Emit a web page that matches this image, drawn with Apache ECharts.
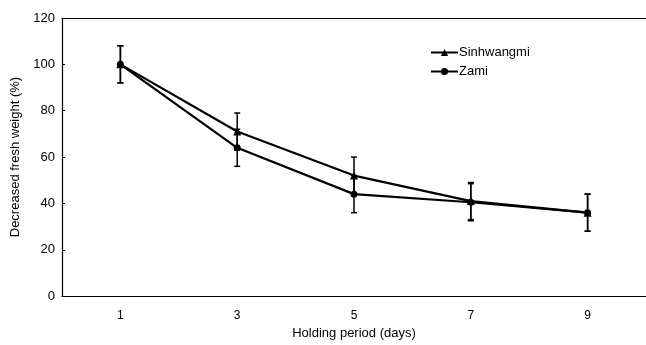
<!DOCTYPE html>
<html><head><meta charset="utf-8">
<script src="https://cdn.jsdelivr.net/npm/echarts@6/dist/echarts.min.js"></script>
<style>html,body{margin:0;padding:0;background:#fff}#c{width:646px;height:345px}</style>
</head><body><div id="c"></div>
<script>
const days = ['1','3','5','7','9'];
const sinhwangmi = [100, 71, 52, 41, 36];
const sinhwangmiErr = [8, 8, 8, 8, 8];
const zami = [100, 64, 44, 40.5, 36];
const zamiErr = [8, 8, 8, 8, 8];
const yTicks = [0, 20, 40, 60, 80, 100, 120];

function errData(vals, errs){ return vals.map((v,i)=>[i, v-errs[i], v+errs[i]]); }
function renderErr(params, api){
  const x = api.value(0);
  const lo = api.coord([x, api.value(1)]);
  const hi = api.coord([x, api.value(2)]);
  const w = 3;
  const st = {stroke:'#000', lineWidth:1.5};
  return {type:'group', children:[
    {type:'line', shape:{x1:hi[0],y1:hi[1],x2:lo[0],y2:lo[1]}, style:st},
    {type:'line', shape:{x1:hi[0]-w,y1:hi[1],x2:hi[0]+w,y2:hi[1]}, style:st},
    {type:'line', shape:{x1:lo[0]-w,y1:lo[1],x2:lo[0]+w,y2:lo[1]}, style:st}
  ]};
}
const font = 'Liberation Sans, Arial, sans-serif';
const chart = echarts.init(document.getElementById('c'), null, {renderer:'canvas'});
chart.setOption({
  animation:false,
  backgroundColor:'#fff',
  textStyle:{fontFamily:font},
  grid:{left:62, top:18, width:587, height:279, show:false},
  legend:{
    orient:'vertical', left:425, top:41, itemWidth:27, itemHeight:9, itemGap:6,
    textStyle:{fontFamily:font, fontSize:13, color:'#000', padding:[0,0,0,-4]},
    data:['Sinhwangmi','Zami']
  },
  xAxis:[{
    type:'category', data:days, boundaryGap:true,
    name:'Holding period (days)', nameLocation:'middle', nameGap:28,
    nameTextStyle:{fontFamily:font, fontSize:13, color:'#000'},
    axisLine:{lineStyle:{color:'#000', width:1.2}},
    axisTick:{show:false},
    axisLabel:{fontFamily:font, fontSize:12, color:'#000', margin:14}
  },{
    type:'category', data:days, position:'top',
    axisLine:{lineStyle:{color:'#000', width:1.2}},
    axisTick:{show:false}, axisLabel:{show:false}
  }],
  yAxis:{
    type:'value', min:0, max:120, interval:20,
    name:'Decreased fresh weight (%)', nameLocation:'middle', nameGap:40,
    nameTextStyle:{fontFamily:font, fontSize:13, color:'#000'},
    axisLine:{show:true, lineStyle:{color:'#000', width:1.2}},
    axisTick:{show:true, inside:true, length:3, lineStyle:{color:'#000'}},
    axisLabel:{fontFamily:font, fontSize:13, color:'#000', margin:7,
      formatter:(v)=> yTicks.includes(v) ? String(v) : ''},
    splitLine:{show:false}
  },
  series:[
    {name:'Sinhwangmi', type:'line', data:sinhwangmi, symbol:'triangle', symbolSize:8,
      itemStyle:{color:'#000'}, lineStyle:{color:'#000', width:2.2}, z:3},
    {name:'Zami', type:'line', data:zami, symbol:'circle', symbolSize:7,
      itemStyle:{color:'#000'}, lineStyle:{color:'#000', width:2.2}, z:3},
    {type:'custom', renderItem:renderErr, data:errData(sinhwangmi, sinhwangmiErr), z:2,
      encode:{x:0, y:[1,2]}, silent:true},
    {type:'custom', renderItem:renderErr, data:errData(zami, zamiErr), z:2,
      encode:{x:0, y:[1,2]}, silent:true}
  ]
});
</script></body></html>
